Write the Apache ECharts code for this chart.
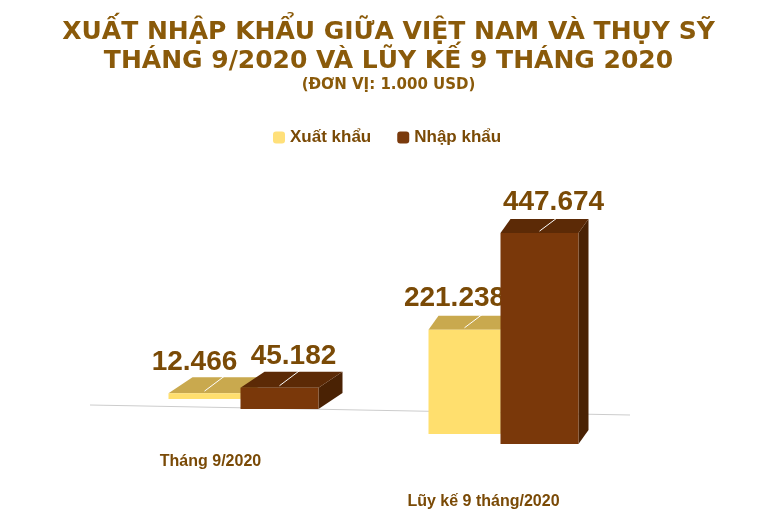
<!DOCTYPE html>
<html><head><meta charset="utf-8">
<script src="https://cdn.jsdelivr.net/npm/echarts@6/dist/echarts.min.js"></script>
<style>html,body{margin:0;background:#fff}#c{width:777px;height:523px}</style>
</head><body><div id="c"></div>
<script>
var categories = ['Tháng 9/2020', 'Lũy kế 9 tháng/2020'];
var xuatKhau = [12466, 221238];
var nhapKhau = [45182, 447674];

function fmt(v) { return String(v).replace(/\B(?=(\d{3})+(?!\d))/g, '.'); }

var chart = echarts.init(document.getElementById('c'));

// perspective: nearer group sits lower, deeper tops for the first group
var lift = [-35, 0];
var shiftX = [0, -5];
var depth = [[24, -16], [10, -14]];

// box with front, top and side faces; side = 0 export, 1 import
function box(side, front, top, sideCol) {
    return function (params, api) {
        var i = api.value(0), v = api.value(1);
        var base = api.coord([i, 0]);
        var tip = api.coord([i, v]);
        var w = side === 0 ? 72 : 78, dx = depth[i][0], dy = depth[i][1];
        var x0 = (side === 0 ? base[0] - w : base[0]) + shiftX[i];
        var x1 = x0 + w;
        var sh = lift[i] + (side === 0 ? -6 : 4);
        var y0 = base[1] + sh, y1 = tip[1] + sh;
        return {
            type: 'group',
            children: [
                {type: 'polygon', shape: {points: [[x1, y0], [x1 + dx, y0 + dy], [x1 + dx, y1 + dy], [x1, y1]]}, style: {fill: sideCol}},
                {type: 'polygon', shape: {points: [[x0, y1], [x1, y1], [x1 + dx, y1 + dy], [x0 + dx, y1 + dy]]}, style: {fill: top}},
                {type: 'rect', shape: {x: x0, y: y1, width: w, height: y0 - y1}, style: {fill: front}},
                {type: 'line', shape: {x1: x0 + w / 2, y1: y1 - 2, x2: x0 + w / 2 + 24, y2: y1 - 20}, style: {stroke: '#fff', lineWidth: 1}},
                {type: 'text', x: x0 + w / 2 + (side === 0 ? -10 : 14), y: y1 - 17,
                    style: {text: fmt(v), fill: '#7A4A06', font: 'bold 28px "Liberation Sans", Arial', align: 'center', verticalAlign: 'bottom'}}
            ]
        };
    };
}

chart.setOption({
    title: {
        text: 'XUẤT NHẬP KHẨU GIỮA VIỆT NAM VÀ THỤY SỸ\nTHÁNG 9/2020 VÀ LŨY KẾ 9 THÁNG 2020',
        subtext: '(ĐƠN VỊ: 1.000 USD)',
        left: 'center', top: 13, itemGap: 2,
        textStyle: {color: '#8A5A0A', fontSize: 25, fontWeight: 'bold', lineHeight: 29, fontFamily: 'DejaVu Sans'},
        subtextStyle: {color: '#8A5A0A', fontSize: 15, fontWeight: 'bold', fontFamily: 'DejaVu Sans'}
    },
    legend: {
        top: 124, left: 268, itemWidth: 12, itemHeight: 12, itemGap: 26,
        textStyle: {color: '#7A4A06', fontSize: 17, fontWeight: 'bold', fontFamily: 'Liberation Sans'},
        data: [{name: 'Xuất khẩu', itemStyle: {color: '#FFE07A'}}, {name: 'Nhập khẩu', itemStyle: {color: '#7A3A0C'}}]
    },
    grid: {left: 108, right: 139, top: 228, bottom: 83},
    graphic: [{type: 'line', shape: {x1: 90, y1: 405, x2: 630, y2: 415}, style: {stroke: '#ccc', lineWidth: 1}, z: -1}],
    xAxis: {
        type: 'category', data: categories,
        axisLine: {show: false}, axisTick: {show: false},
        axisLabel: {
            formatter: function (v, i) { return i === 0 ? '{a|' + v + '}' : '{b|' + v + '}'; },
            rich: {
                a: {color: '#7A4A06', fontSize: 16, fontWeight: 'bold', padding: [6, 60, 0, 0], fontFamily: 'Liberation Sans'},
                b: {color: '#7A4A06', fontSize: 16, fontWeight: 'bold', padding: [46, 44, 0, 0], fontFamily: 'Liberation Sans'}
            }
        }
    },
    yAxis: {type: 'value', min: 0, max: 450000, show: false},
    series: [
        {name: 'Xuất khẩu', type: 'custom', renderItem: box(0, '#FFDF6E', '#C9A94E', '#B89A40'),
            data: xuatKhau.map(function (v, i) { return [i, v]; }), itemStyle: {color: '#FFE07A'}},
        {name: 'Nhập khẩu', type: 'custom', renderItem: box(1, '#7A380A', '#5C2A06', '#4A2204'),
            data: nhapKhau.map(function (v, i) { return [i, v]; }), itemStyle: {color: '#7A3A0C'}}
    ]
});
</script></body></html>
